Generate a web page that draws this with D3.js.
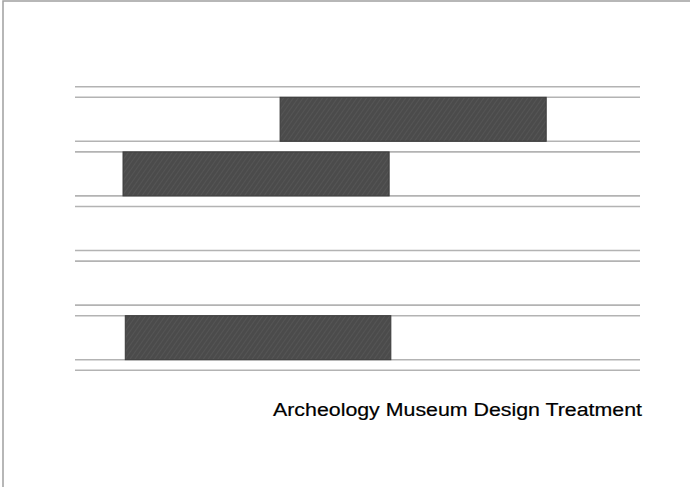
<!DOCTYPE html>
<html>
<head>
<meta charset="utf-8">
<script src="https://cdn.jsdelivr.net/npm/d3@7"></script>
<style>
  body { margin: 0; background: #fff; }
  svg { display: block; }
</style>
</head>
<body>
<div id="chart"></div>
<script>
// rows of the schedule, top to bottom
var rows = ["Task 1", "Task 2", "Task 3", "Task 4", "Task 5"];
// start / end of each task (days), null = nothing scheduled
var starts = [36.3, 8.5, null, null, 8.9];
var ends   = [83.4, 55.6, null, null, 55.9];
var title = "Archeology Museum Design Treatment";

var width = 690, height = 487;

var svg = d3.select("#chart")
  .append("svg")
    .attr("width", width)
    .attr("height", height);

// frame
svg.append("rect")
  .attr("x", 3).attr("y", 1)
  .attr("width", width + 10).attr("height", height + 10)
  .attr("fill", "none")
  .attr("stroke", "#a0a0a0")
  .attr("stroke-width", 1.5);

var x = d3.scaleLinear()
  .domain([0, 100])
  .range([75, 640]);

var y = d3.scaleBand()
  .domain(rows)
  .range([92, 365]);

var pad = 5.3;

// hatch pattern for the bars
var defs = svg.append("defs");
var pat = defs.append("pattern")
  .attr("id", "hatch")
  .attr("patternUnits", "userSpaceOnUse")
  .attr("width", 4).attr("height", 4)
  .attr("patternTransform", "rotate(35)");
pat.append("rect")
  .attr("width", 4).attr("height", 4)
  .attr("fill", "#4b4b4b");
pat.append("line")
  .attr("x1", 0).attr("y1", 0).attr("x2", 0).attr("y2", 4)
  .attr("stroke", "#5e5e5e")
  .attr("stroke-width", 1);

// row boundary lines (a pair around every boundary)
var bounds = rows.map(function(r) { return y(r) }).concat([y.range()[1]]);
var lineYs = [];
bounds.forEach(function(b) { lineYs.push(b - pad, b + pad) });

svg.append("g")
  .selectAll("line")
  .data(lineYs)
  .join("line")
    .attr("x1", x.range()[0])
    .attr("x2", x.range()[1])
    .attr("y1", function(d) { return d })
    .attr("y2", function(d) { return d })
    .attr("stroke", "#b3b3b3")
    .attr("stroke-width", 1.6);

// bars
var bars = rows.map(function(r, i) { return {row: r, start: starts[i], end: ends[i]} })
  .filter(function(d) { return d.start != null });

svg.append("g")
  .selectAll("rect")
  .data(bars)
  .join("rect")
    .attr("x", function(d) { return x(d.start) })
    .attr("y", function(d) { return y(d.row) + pad })
    .attr("width", function(d) { return x(d.end) - x(d.start) })
    .attr("height", y.bandwidth() - 2 * pad)
    .attr("fill", "url(#hatch)")
    .attr("stroke", "#3a3a3a")
    .attr("stroke-width", 1);

svg.append("text")
  .attr("x", 642)
  .attr("y", 416)
  .attr("text-anchor", "end")
  .attr("font-family", "Liberation Sans, Arial, sans-serif")
  .attr("font-size", 18)
  .attr("textLength", 369)
  .attr("lengthAdjust", "spacingAndGlyphs")
  .attr("fill", "#000")
  .attr("stroke", "#000")
  .attr("stroke-width", 0.2)
  .text(title);
</script>
</body>
</html>
